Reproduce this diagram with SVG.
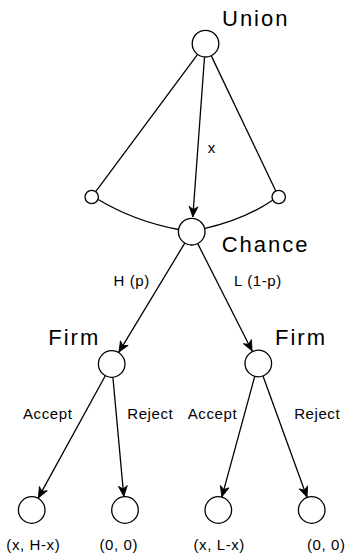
<svg xmlns="http://www.w3.org/2000/svg" width="346" height="556" viewBox="0 0 346 556">
  <style>
    .node { fill: #ffffff; stroke: #000000; stroke-width: 1.3; }
    .edge { fill: none; stroke: #000000; stroke-width: 1.3; }
    .arrow { marker-end: url(#head); }
    .player { font-family: "Liberation Sans", Arial, sans-serif; font-size: 22px; letter-spacing: 2px; fill: #000000; }
    .label { font-family: "Liberation Sans", Arial, sans-serif; font-size: 15px; letter-spacing: 0.6px; fill: #000000; text-anchor: middle; }
  </style>
  <defs>
    <marker id="head" markerUnits="userSpaceOnUse" markerWidth="14" markerHeight="12" viewBox="-11 -6 12 12" refX="0" refY="0" orient="auto">
      <path d="M0,0 L-10.5,-4.5 L-7.5,0 L-10.5,4.5 Z" fill="#000000" stroke="#000000" stroke-width="0.8"/>
    </marker>
  </defs>

  <!-- connectors -->
  <g id="connectors">
    <line class="edge" x1="197.6" y1="54.3" x2="95.7" y2="191.6"/>
    <line class="edge" x1="211.3" y1="55.9" x2="275.8" y2="191.0"/>
    <line class="edge arrow" x1="204.5" y1="57.2" x2="192.8" y2="217.0"/>
    <path class="edge" d="M98.2,199.5 Q134.5,221.3 178.6,229.5"/>
    <path class="edge" d="M205.0,228.3 Q242.5,220.4 272.6,200.2"/>
    <line class="edge arrow" x1="184.8" y1="243.1" x2="118.9" y2="352.1"/>
    <line class="edge arrow" x1="197.7" y1="243.6" x2="252.1" y2="351.0"/>
    <line class="edge arrow" x1="105.3" y1="375.7" x2="38.3" y2="497.9"/>
    <line class="edge arrow" x1="112.9" y1="377.2" x2="123.8" y2="496.4"/>
    <line class="edge arrow" x1="254.8" y1="376.1" x2="221.9" y2="496.8"/>
    <line class="edge arrow" x1="262.9" y1="375.8" x2="307.0" y2="497.2"/>
  </g>

  <!-- edge labels -->
  <g id="edge-labels">
    <text class="label" x="211.7" y="153">x</text>
    <text class="label" x="131.7" y="286">H (p)</text>
    <text class="label" x="258" y="286">L (1-p)</text>
    <text class="label" x="47.7" y="419">Accept</text>
    <text class="label" x="150.3" y="419">Reject</text>
    <text class="label" x="212.5" y="419">Accept</text>
    <text class="label" x="317.2" y="419">Reject</text>
  </g>

  <g id="union">
    <circle class="node" cx="205.5" cy="43.7" r="13.3"/>
    <text class="player" x="222" y="26">Union</text>
  </g>
  <g id="cont-left">
    <circle class="node" cx="91.7" cy="197" r="6.7"/>
  </g>
  <g id="cont-right">
    <circle class="node" cx="278.7" cy="197" r="6.7"/>
  </g>
  <g id="chance">
    <circle class="node" cx="191.7" cy="231.7" r="13.3"/>
    <text class="player" x="221.7" y="251.5">Chance</text>
  </g>
  <g id="firm-high">
    <circle class="node" cx="111.7" cy="364" r="13.3"/>
    <text class="player" x="48.3" y="345">Firm</text>
  </g>
  <g id="firm-low">
    <circle class="node" cx="258.3" cy="363.5" r="13.3"/>
    <text class="player" x="275" y="345">Firm</text>
  </g>
  <g id="leaf-high-accept">
    <circle class="node" cx="31.7" cy="510" r="13.3"/>
    <text class="label" x="33.3" y="550">(x, H-x)</text>
  </g>
  <g id="leaf-high-reject">
    <circle class="node" cx="125" cy="510" r="13.3"/>
    <text class="label" x="118.8" y="550">(0, 0)</text>
  </g>
  <g id="leaf-low-accept">
    <circle class="node" cx="218.3" cy="510" r="13.3"/>
    <text class="label" x="219.2" y="550">(x, L-x)</text>
  </g>
  <g id="leaf-low-reject">
    <circle class="node" cx="311.7" cy="510" r="13.3"/>
    <text class="label" x="326.3" y="550">(0, 0)</text>
  </g>
</svg>
